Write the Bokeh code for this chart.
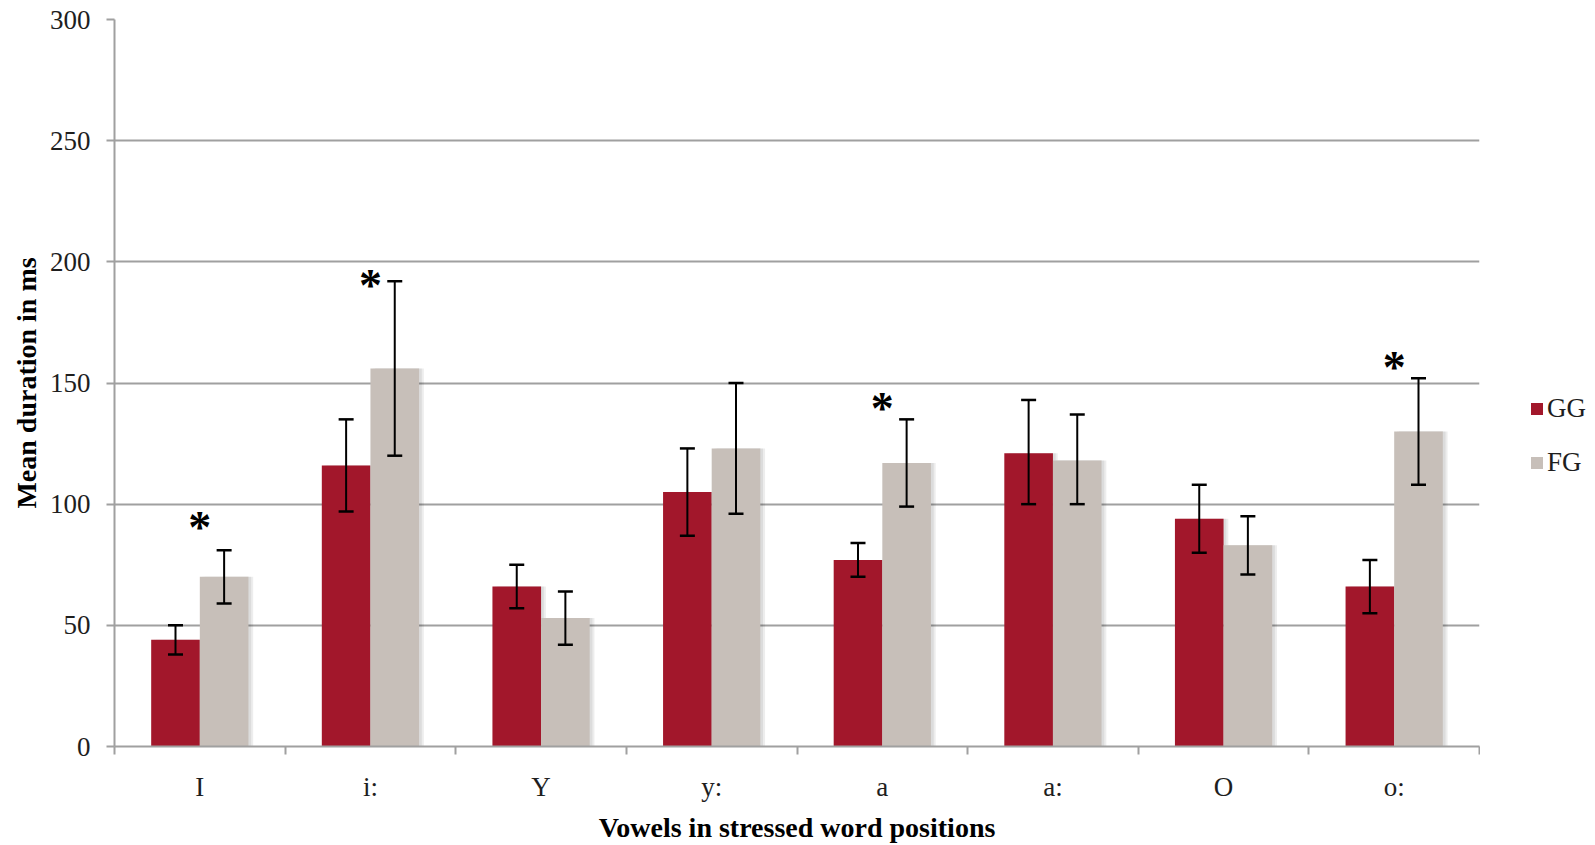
import numpy as np
from bokeh.plotting import figure
from bokeh.layouts import row
from bokeh.models import (ColumnDataSource, Range1d, FixedTicker, Whisker, TeeHead,
                          Legend, LegendItem)
from bokeh.transform import dodge
from bokeh.core.properties import value
from bokeh.embed import file_html
from bokeh.resources import INLINE

# ---------------- data ----------------
categories = ["I", "i:", "Y", "y:", "a", "a:", "O", "o:"]
gg_mean = [44, 116, 66, 105, 77, 121, 94, 66]
gg_lower = [38, 97, 57, 87, 70, 100, 80, 55]
gg_upper = [50, 135, 75, 123, 84, 143, 108, 77]
fg_mean = [70, 156, 53, 123, 117, 118, 83, 130]
fg_lower = [59, 120, 42, 96, 99, 100, 71, 108]
fg_upper = [81, 192, 64, 150, 135, 137, 95, 152]
sig_categories = ["I", "i:", "a", "o:"]
sig_height = [94, 194, 143, 160]
y_ticks = [0, 50, 100, 150, 200, 250, 300]
series_names = ["GG", "FG"]

# ---------------- style ----------------
GG_COLOR = "#A2172B"
FG_COLOR = "#C7BFB9"
GRID = "#A0A0A0"
TXT = "#1E1E1E"
FONT = "Liberation Serif"
BAR_W = 0.285
OFF = BAR_W / 2

centers = [i + 0.5 for i in range(len(categories))]
src = ColumnDataSource(dict(x=centers, cat=categories,
                            gg=gg_mean, gg_lo=gg_lower, gg_hi=gg_upper,
                            fg=fg_mean, fg_lo=fg_lower, fg_hi=fg_upper))
sig_src = ColumnDataSource(dict(x=[categories.index(c) + 0.5 for c in sig_categories],
                                y=sig_height))

p = figure(width=1480, height=845, output_backend="svg", toolbar_location=None,
           x_range=Range1d(0, len(categories)), y_range=Range1d(0, 300),
           min_border_left=114, min_border_right=1, min_border_top=19, min_border_bottom=91)
p.outline_line_color = None
p.background_fill_color = "white"
p.border_fill_color = "white"

# shadows
for off in (0.028, 0.016):
    p.vbar(x=dodge("x", -OFF + off), top="gg", width=BAR_W, bottom=0, source=src,
           fill_color="black", fill_alpha=0.07, line_color=None)
    p.vbar(x=dodge("x", OFF + off), top="fg", width=BAR_W, bottom=0, source=src,
           fill_color="black", fill_alpha=0.07, line_color=None)

r_gg = p.vbar(x=dodge("x", -OFF), top="gg", width=BAR_W, bottom=0, source=src,
              fill_color=GG_COLOR, line_color=None)
r_fg = p.vbar(x=dodge("x", OFF), top="fg", width=BAR_W, bottom=0, source=src,
              fill_color=FG_COLOR, line_color=None)

for base, lo, hi in ((dodge("x", -OFF), "gg_lo", "gg_hi"), (dodge("x", OFF), "fg_lo", "fg_hi")):
    w = Whisker(source=src, base=base, lower=lo, upper=hi, dimension="height",
                line_color="black", line_width=2, level="overlay",
                upper_head=TeeHead(size=15, line_width=2.5, line_color="black"),
                lower_head=TeeHead(size=15, line_width=2.5, line_color="black"))
    p.add_layout(w)

p.text(x="x", y="y", text=value("*"), source=sig_src, text_font=value(FONT),
       text_font_style="bold", text_font_size=value("46px"), text_align="center",
       text_baseline="alphabetic", y_offset=9, text_color="black")

# axes
p.yaxis.ticker = FixedTicker(ticks=y_ticks)
p.yaxis.axis_line_color = GRID
p.yaxis.axis_line_width = 2
p.yaxis.major_tick_line_color = GRID
p.yaxis.major_tick_line_width = 2
p.yaxis.major_tick_out = 8
p.yaxis.major_tick_in = 0
p.yaxis.minor_tick_line_color = None
p.yaxis.major_label_standoff = 16
p.yaxis.major_label_text_font = FONT
p.yaxis.major_label_text_font_size = "27px"
p.yaxis.major_label_text_color = TXT
p.yaxis.axis_label = "Mean duration in ms"
p.yaxis.axis_label_text_font = FONT
p.yaxis.axis_label_text_font_style = "bold"
p.yaxis.axis_label_text_font_size = "28px"
p.yaxis.axis_label_text_color = "black"
p.yaxis.axis_label_standoff = 5

p.xaxis.ticker = FixedTicker(ticks=centers, minor_ticks=list(range(len(categories) + 1)))
p.xaxis.major_label_overrides = {c: lab for c, lab in zip(centers, categories)}
p.xaxis.axis_line_color = GRID
p.xaxis.axis_line_width = 2
p.xaxis.major_tick_line_color = None
p.xaxis.major_tick_out = 0
p.xaxis.major_tick_in = 0
p.xaxis.minor_tick_line_color = GRID
p.xaxis.minor_tick_line_width = 2
p.xaxis.minor_tick_out = 8
p.xaxis.minor_tick_in = 0
p.xaxis.major_label_standoff = 17
p.xaxis.major_label_text_font = FONT
p.xaxis.major_label_text_font_size = "27px"
p.xaxis.major_label_text_color = TXT
p.xaxis.axis_label = "Vowels in stressed word positions"
p.xaxis.axis_label_text_font = FONT
p.xaxis.axis_label_text_font_style = "bold"
p.xaxis.axis_label_text_font_size = "28px"
p.xaxis.axis_label_text_color = "black"
p.xaxis.axis_label_standoff = 7

p.xgrid.visible = False
p.ygrid.ticker = FixedTicker(ticks=y_ticks)
p.ygrid.grid_line_color = GRID
p.ygrid.grid_line_width = 2

# legend panel (separate figure so the legend is not clipped by the main frame)
side = figure(width=115, height=845, output_backend="svg", toolbar_location=None,
              x_range=Range1d(0, 1), y_range=Range1d(0, 1),
              min_border=0, outline_line_color=None)
side.axis.visible = False
side.grid.visible = False
side.border_fill_color = "white"
# placeholder renderers (zero-height, outside the visible range) that only carry legend styling
proxy = ColumnDataSource(dict(x=[-5.0], top=[0.0]))
l_gg = side.vbar(x="x", top="top", width=0.1, source=proxy, fill_color=GG_COLOR, line_color=None)
l_fg = side.vbar(x="x", top="top", width=0.1, source=proxy, fill_color=FG_COLOR, line_color=None)
legend = Legend(items=[LegendItem(label=series_names[0], renderers=[l_gg]),
                       LegendItem(label=series_names[1], renderers=[l_fg])],
                location=(49, 268), padding=0, margin=0, border_line_color=None,
                background_fill_alpha=0, glyph_width=15, glyph_height=15,
                label_standoff=3, spacing=23, label_text_font=FONT,
                label_text_font_size="27px", label_text_color=TXT)
side.add_layout(legend)

layout = row(p, side, spacing=0)
open("out.html", "w").write(file_html(layout, INLINE))
